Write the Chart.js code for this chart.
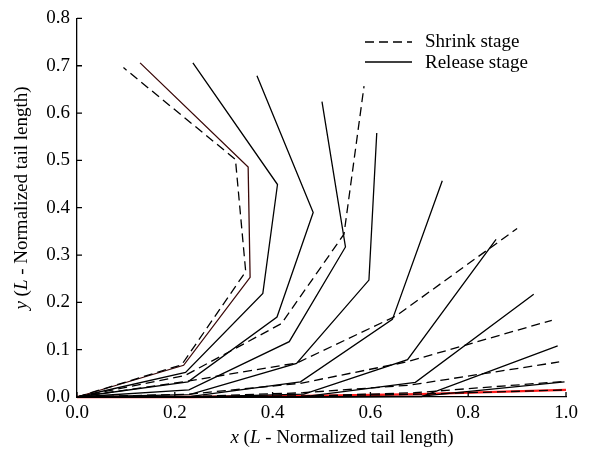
<!DOCTYPE html>
<html>
<head>
<meta charset="utf-8">
<script src="https://cdn.jsdelivr.net/npm/chart.js@4"></script>
<style>
  html, body { margin: 0; padding: 0; background: #fff; }
  #wrap { width: 594px; height: 455px; }
</style>
</head>
<body>
<div id="wrap"><canvas id="tailChart"></canvas></div>
<script>
// tick labels
const xTicks = [0, 0.2, 0.4, 0.6, 0.8, 1.0];
const yTicks = [0, 0.1, 0.2, 0.3, 0.4, 0.5, 0.6, 0.7, 0.8];

// release stage (solid) - tail shapes, [x, y]
const release1 = [[0, 0], [0.218, 0.067], [0.354, 0.253], [0.35, 0.486], [0.129, 0.706]];
const release2 = [[0, 0], [0.222, 0.052], [0.38, 0.219], [0.41, 0.449], [0.237, 0.706]];
const release3 = [[0, 0], [0.227, 0.032], [0.409, 0.169], [0.483, 0.39], [0.368, 0.679]];
const release4 = [[0, 0], [0.229, 0.015], [0.434, 0.117], [0.549, 0.317], [0.501, 0.624]];
const release5 = [[0, 0], [0.23, 0.005], [0.449, 0.071], [0.597, 0.247], [0.613, 0.558]];
const release6 = [[0, 0], [0.23, 0.001], [0.457, 0.032], [0.645, 0.164], [0.747, 0.457]];
const release7 = [[0, 0], [0.234, 0], [0.464, 0.006], [0.676, 0.079], [0.857, 0.333]];
const release8 = [[0, 0], [0.235, 0], [0.465, 0.001], [0.692, 0.031], [0.934, 0.217]];
const release9 = [[0, 0], [0.235, 0], [0.47, 0], [0.705, 0.001], [0.983, 0.108]];
const release10 = [[0, 0], [0.235, 0], [0.47, 0], [0.705, 0.002], [0.997, 0.032]];
const releaseRed = [[0, 0], [0.235, 0], [0.47, 0.002], [0.70, 0.006], [1.0, 0.015]];

// shrink stage (dashed)
const shrink1 = [[0, 0], [0.214, 0.068], [0.345, 0.265], [0.324, 0.502], [0.095, 0.696]];
const shrink2 = [[0, 0], [0.22, 0.045], [0.418, 0.155], [0.546, 0.344], [0.587, 0.657]];
const shrink3 = [[0, 0], [0.223, 0.033], [0.45, 0.072], [0.652, 0.171], [0.9, 0.356]];
const shrink4 = [[0, 0], [0.23, 0.006], [0.457, 0.029], [0.674, 0.074], [0.971, 0.162]];
const shrink5 = [[0, 0], [0.232, 0.001], [0.462, 0.009], [0.68, 0.025], [0.986, 0.074]];
const shrink6 = [[0, 0], [0.235, 0], [0.467, 0.002], [0.69, 0.009], [0.997, 0.033]];
const shrink7 = [[0, 0], [0.235, 0], [0.47, 0.002], [0.70, 0.006], [1.0, 0.015]];

const releaseLines = [release1, release2, release3, release4, release5, release6, release7, release8, release9, release10];
const shrinkLines = [shrink1, shrink2, shrink3, shrink4, shrink5, shrink6, shrink7];

const FONT = '"Liberation Serif", "Times New Roman", serif';
const DASH = [9, 5];

function toPts(arr) {
    return arr.map(p => ({ x: p[0], y: p[1] }));
}

function lineSet(arr, color, dashed, width) {
    return {
        data: toPts(arr),
        showLine: true,
        borderColor: color,
        borderWidth: width || 1.3,
        borderDash: dashed ? DASH : [],
        pointRadius: 0,
        pointHoverRadius: 0,
        tension: 0,
        fill: false,
        clip: 4
    };
}

// first datasets end up on top
const datasets = [];
shrinkLines.forEach(l => datasets.push(lineSet(l, '#000', true)));
releaseLines.forEach((l, i) => datasets.push(lineSet(l, i === 0 ? '#3a0808' : '#000', false)));
datasets.push(lineSet(releaseRed, '#ff1a1a', false, 2.4));

// draw text parts, some italic, centred at (cx, cy)
function mixedText(ctx, parts, cx, cy, size, rot) {
    ctx.save();
    ctx.translate(cx, cy);
    if (rot) ctx.rotate(rot);
    ctx.textBaseline = 'middle';
    ctx.fillStyle = '#000';
    let total = 0;
    parts.forEach(p => {
        ctx.font = (p[1] ? 'italic ' : '') + size + 'px ' + FONT;
        total += ctx.measureText(p[0]).width;
    });
    let x = -total / 2;
    parts.forEach(p => {
        ctx.font = (p[1] ? 'italic ' : '') + size + 'px ' + FONT;
        ctx.fillText(p[0], x, 0);
        x += ctx.measureText(p[0]).width;
    });
    ctx.restore();
}

const extras = {
    id: 'extras',
    afterDraw(chart) {
        const ctx = chart.ctx;
        const xs = chart.scales.x, ys = chart.scales.y;
        const area = chart.chartArea;
        // inward ticks
        ctx.save();
        ctx.strokeStyle = '#000';
        ctx.lineWidth = 1.3;
        ctx.beginPath();
        xTicks.forEach(v => {
            const px = xs.getPixelForValue(v);
            ctx.moveTo(px, area.bottom);
            ctx.lineTo(px, area.bottom - 5);
        });
        yTicks.forEach(v => {
            const py = ys.getPixelForValue(v);
            ctx.moveTo(area.left, py);
            ctx.lineTo(area.left + 5, py);
        });
        ctx.stroke();

        // legend
        ctx.beginPath();
        ctx.setLineDash(DASH);
        ctx.moveTo(365, 42);
        ctx.lineTo(412, 42);
        ctx.stroke();
        ctx.setLineDash([]);
        ctx.beginPath();
        ctx.moveTo(365, 62);
        ctx.lineTo(412, 62);
        ctx.stroke();
        ctx.fillStyle = '#000';
        ctx.font = '19px ' + FONT;
        ctx.textBaseline = 'middle';
        ctx.fillText('Shrink stage', 425, 42);
        ctx.fillText('Release stage', 425, 63);
        ctx.restore();

        // axis titles
        mixedText(ctx, [['x', true], [' (', false], ['L', true], [' - Normalized tail length)', false]], 342, 438, 19, 0);
        mixedText(ctx, [['y', true], [' (', false], ['L', true], [' - Normalized tail length)', false]], 22, 198, 19, -Math.PI / 2);
    }
};

new Chart(document.getElementById('tailChart'), {
    type: 'scatter',
    data: { datasets: datasets },
    options: {
        responsive: true,
        maintainAspectRatio: false,
        animation: false,
        events: [],
        layout: { padding: { top: 13, right: 28, left: 0, bottom: 0 } },
        plugins: { legend: { display: false }, tooltip: { enabled: false } },
        scales: {
            x: {
                type: 'linear', min: 0, max: 1,
                afterBuildTicks: s => { s.ticks = xTicks.map(v => ({ value: v })); },
                afterFit: s => { s.height = 58; },
                grid: { drawOnChartArea: false, drawTicks: false },
                border: { display: true, color: '#000', width: 1.3 },
                ticks: { color: '#000', padding: 5, font: { family: FONT, size: 19 }, callback: v => v.toFixed(1) }
            },
            y: {
                type: 'linear', min: 0, max: 0.8,
                afterBuildTicks: s => { s.ticks = yTicks.map(v => ({ value: v })); },
                afterFit: s => { s.width = 77; },
                grid: { drawOnChartArea: false, drawTicks: false },
                border: { display: true, color: '#000', width: 1.3 },
                ticks: { color: '#000', padding: 7, font: { family: FONT, size: 19 }, callback: v => v.toFixed(1) }
            }
        }
    },
    plugins: [extras]
});
</script>
</body>
</html>
